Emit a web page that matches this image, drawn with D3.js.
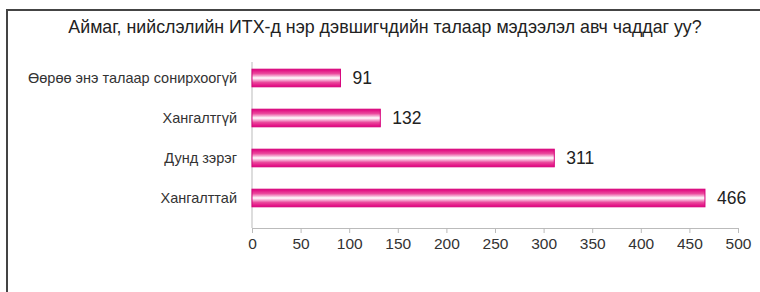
<!DOCTYPE html>
<html><head><meta charset="utf-8">
<script src="https://cdn.jsdelivr.net/npm/d3@7"></script>
<style>body{margin:0;background:#fff}svg{display:block}</style>
</head><body>
<script>
const categories = ["Өөрөө энэ талаар сонирхоогүй", "Хангалтгүй", "Дунд зэрэг", "Хангалттай"];
const values = [91, 132, 311, 466];
const ticks = [0, 50, 100, 150, 200, 250, 300, 350, 400, 450, 500];
const title = "Аймаг, нийслэлийн ИТХ-д нэр дэвшигчдийн талаар мэдээлэл авч чаддаг уу?";

const W = 760, H = 292;
const svg = d3.select("body").append("svg").attr("width", W).attr("height", H);
const font = "Liberation Sans, Arial, sans-serif";

// frame
svg.append("path").attr("d", "M7,292 V10 H760").attr("fill", "none").attr("stroke", "#444").attr("stroke-width", 2);

svg.append("text").attr("x", 385).attr("y", 33).attr("text-anchor", "middle")
  .attr("font-family", font).attr("font-size", 17.8).attr("fill", "#222").text(title);

const x = d3.scaleLinear().domain([0, 500]).range([252, 738]);
const y = d3.scaleBand().domain(categories).range([58, 218]).paddingInner(0.56).paddingOuter(0.28);

const defs = svg.append("defs");
const g = defs.append("linearGradient").attr("id", "bg").attr("x1", 0).attr("x2", 0).attr("y1", 0).attr("y2", 1);
g.append("stop").attr("offset", "0%").attr("stop-color", "#e0007c");
g.append("stop").attr("offset", "25%").attr("stop-color", "#ea4a9d");
g.append("stop").attr("offset", "50%").attr("stop-color", "#ffffff");
g.append("stop").attr("offset", "75%").attr("stop-color", "#ea4a9d");
g.append("stop").attr("offset", "100%").attr("stop-color", "#e0007c");

// axes
svg.append("line").attr("x1", x(0)).attr("x2", x(0)).attr("y1", 62).attr("y2", 228)
  .attr("stroke", "#bbb").attr("stroke-width", 1);
const ax = svg.append("g").attr("transform", "translate(0,228)")
  .call(d3.axisBottom(x).tickValues(ticks).tickSize(5).tickPadding(5));
ax.select(".domain").attr("stroke", "#bbb");
ax.selectAll(".tick line").attr("stroke", "#bbb");
ax.selectAll(".tick text").attr("font-family", font).attr("font-size", 15.5).attr("fill", "#333");

// bars
svg.selectAll("rect.bar").data(values).enter().append("rect").attr("class", "bar")
  .attr("x", x(0)).attr("y", (d, i) => y(categories[i]))
  .attr("width", d => x(d) - x(0)).attr("height", y.bandwidth())
  .attr("fill", "url(#bg)").attr("stroke", "#d6007a").attr("stroke-width", 1);

svg.selectAll("text.val").data(values).enter().append("text").attr("class", "val")
  .attr("x", d => x(d) + 12).attr("y", (d, i) => y(categories[i]) + y.bandwidth() / 2)
  .attr("dy", "0.35em").attr("font-family", font).attr("font-size", 17.5).attr("fill", "#222")
  .text(d => d);

svg.selectAll("text.cat").data(categories).enter().append("text").attr("class", "cat")
  .attr("x", 237).attr("y", d => y(d) + y.bandwidth() / 2).attr("dy", "0.35em")
  .attr("text-anchor", "end").attr("font-family", font).attr("font-size", 14.5).attr("fill", "#333")
  .text(d => d);
</script>
</body></html>
